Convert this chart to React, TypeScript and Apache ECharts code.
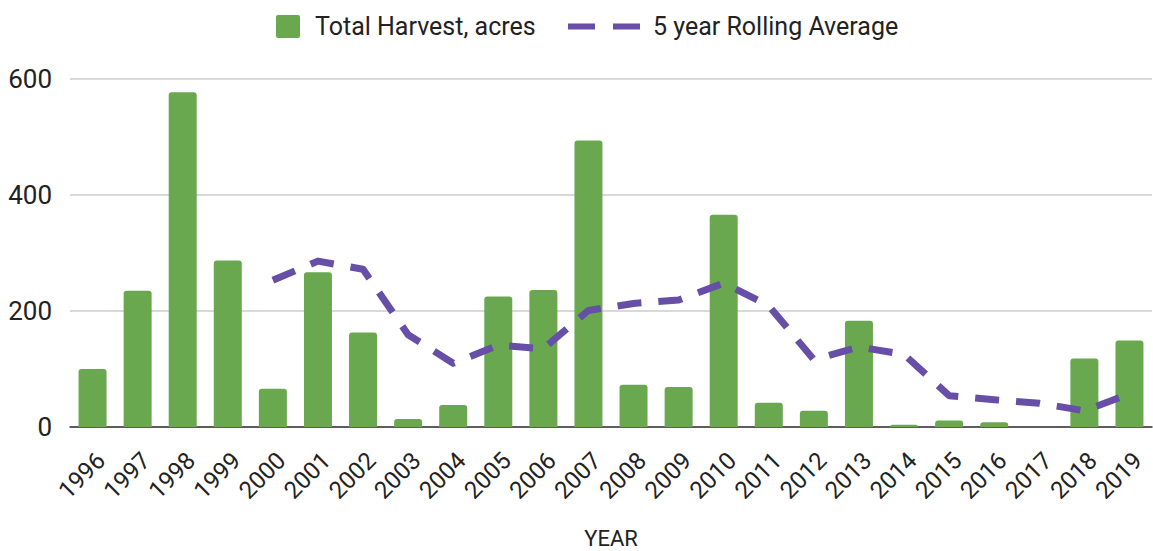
import React, { useEffect, useRef } from "react";
import * as echarts from "echarts";

const years = ["1996","1997","1998","1999","2000","2001","2002","2003","2004","2005","2006","2007","2008","2009","2010","2011","2012","2013","2014","2015","2016","2017","2018","2019"];
const harvest = [100, 235, 577, 287, 66, 267, 163, 14, 38, 225, 236, 494, 73, 69, 366, 42, 28, 183, 4, 11, 8, 0, 118, 149];
const rollingAvg = [null, null, null, null, 253, 286, 272, 159, 110, 141, 135, 201, 213, 219, 248, 209, 116, 138, 125, 54, 47, 41, 28, 57];
const yTicks = [0, 200, 400, 600];

const GREEN = "#6aa84f";
const PURPLE = "#674ea7";
const FONT = "Roboto";

export default function App() {
  const ref = useRef<HTMLDivElement>(null);
  useEffect(() => {
    if (!ref.current) return;
    const chart = echarts.init(ref.current, null, { renderer: "svg" });
    chart.setOption({
      animation: false,
      textStyle: { fontFamily: FONT },
      legend: [
        {
          data: [{ name: "Total Harvest, acres", icon: "path://M2,0h20a2,2 0 0 1 2,2v19a2,2 0 0 1 -2,2h-20a2,2 0 0 1 -2,-2v-19a2,2 0 0 1 2,-2z" }],
          left: 271,
          top: 9,
          itemWidth: 24,
          itemHeight: 23,
          textStyle: { fontSize: 25, color: "#222", fontFamily: FONT, padding: [0, 0, 0, 10] },
        },
        {
          data: [{ name: "5 year Rolling Average", icon: "path://M0,0h27v6h-27z M45,0h27v6h-27z" }],
          left: 563,
          top: 9,
          itemWidth: 72,
          itemHeight: 6,
          itemStyle: { color: PURPLE },
          textStyle: { fontSize: 25, color: "#222", fontFamily: FONT, padding: [0, 0, 0, 8] },
        },
      ],
      grid: { left: 70, right: 1, top: 79, bottom: 124, containLabel: false, outerBoundsMode: "none" },
      xAxis: {
        type: "category",
        data: years,
        name: "YEAR",
        nameLocation: "middle",
        nameGap: 100,
        nameMoveOverlap: false,
        nameTextStyle: { fontSize: 22, lineHeight: 22, color: "#222", fontFamily: FONT },
        axisLine: { lineStyle: { color: "#333", width: 1.5 } },
        axisTick: { show: false },
        axisLabel: { rotate: 45, fontSize: 24, color: "#222", margin: 21, interval: 0, verticalAlign: "top", fontFamily: FONT },
      },
      yAxis: {
        type: "value",
        min: yTicks[0],
        max: yTicks[yTicks.length - 1],
        interval: 200,
        axisLine: { show: false },
        axisTick: { show: false },
        splitLine: { lineStyle: { color: "#cccccc", width: 1.5 } },
        axisLabel: { fontSize: 26, color: "#222", margin: 18, fontFamily: FONT },
      },
      series: [
        {
          name: "Total Harvest, acres",
          type: "bar",
          data: harvest,
          barWidth: 28,
          itemStyle: { color: GREEN, borderRadius: [3, 3, 0, 0] },
        },
        {
          name: "5 year Rolling Average",
          type: "line",
          data: rollingAvg,
          symbol: "none",
          connectNulls: false,
          itemStyle: { color: PURPLE },
          lineStyle: { color: PURPLE, width: 7, type: [24, 17], cap: "butt", join: "round" },
        },
      ],
    });
    return () => chart.dispose();
  }, []);
  return <div ref={ref} style={{ width: 1153, height: 551, position: "absolute", left: 0, top: 0 }} />;
}
